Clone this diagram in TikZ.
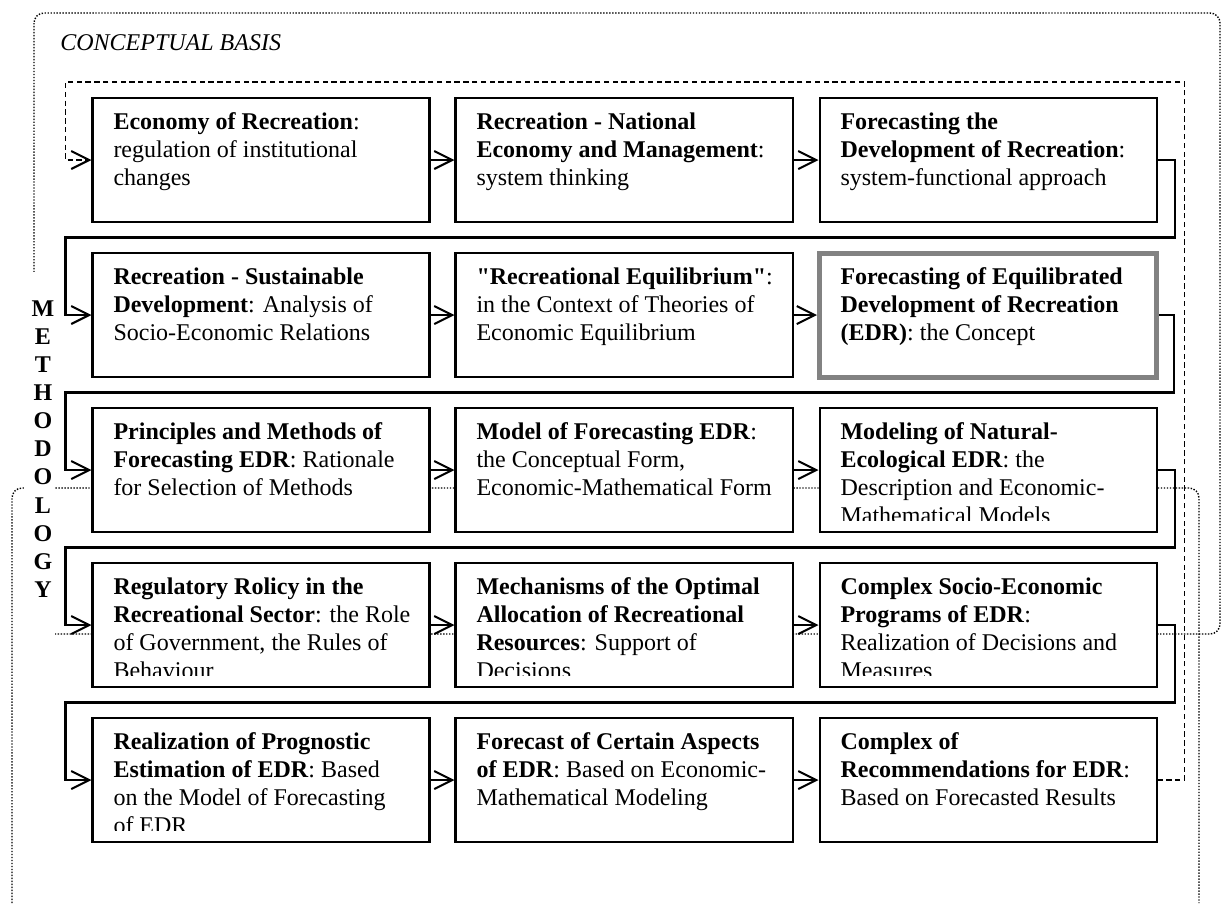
\documentclass[tikz,border=0pt]{standalone}
\usepackage{fontspec}
\setmainfont{Liberation Serif}
\usetikzlibrary{arrows.meta}
\definecolor{edrgray}{RGB}{130,130,130}
\newcommand{\edrsize}{\fontsize{13.66pt}{16pt}\selectfont}
\newcommand{\stagelines}[1]{\parbox[t][2.008cm][t]{5.9cm}{\begin{tabular}[t]{@{}l@{}}#1\end{tabular}}}
\newcommand{\straightquote}{\XeTeXglyph\XeTeXglyphindex "quotedbl"\relax}
\tikzset{
	stage/.style={draw, line width=1.15pt, fill=white, inner xsep=0.42cm, inner ysep=0.236cm},
	keystage/.style={stage, draw=edrgray, line width=2.85pt},
	flow/.style={line width=1.15pt, -{Straight Barb[length=0.36cm,width=0.36cm]}},
	feedback/.style={line width=0.6pt, dash pattern=on 3pt off 2pt,
		-{Straight Barb[length=0.36cm,width=0.36cm,line width=1.15pt]}},
	frame/.style={line width=0.8pt, dash pattern=on 0.8pt off 0.9pt, rounded corners=0.2cm}
}

\begin{document}
\begin{tikzpicture}[font=\edrsize]
		\useasboundingbox (0,0) rectangle (24.46,-18.06);

		\draw[frame] (0.68,-0.26) rectangle (24.4,-12.68);
		\draw[frame] (0.24,-18.06) -- (0.24,-9.76) -- (23.98,-9.76) -- (23.98,-18.06);
		\fill[white] (0.48,-5.44) rectangle (1.1,-12.9);

		\draw (1.2,-1.0) node [anchor=base west, inner sep=0pt, font=\edrsize\itshape] (concept) {CONCEPTUAL BASIS};
		\draw (0.86,-8.98) node [align=center, inner sep=0pt, font=\edrsize\bfseries] (meth) {M\\E\\T\\H\\O\\D\\O\\L\\O\\G\\Y};

		\draw (5.22,-3.2) node [stage] (b11) {\stagelines{\textbf{Economy of Recreation}:\\regulation of institutional\\changes}};
		\draw (12.48,-3.2) node [stage] (b12) {\stagelines{\textbf{Recreation - National}\\\textbf{Economy and Management}:\\system thinking}};
		\draw (19.76,-3.2) node [stage] (b13) {\stagelines{\textbf{Forecasting the}\\\textbf{Development of Recreation}:\\system-functional approach}};

		\draw (5.22,-6.3) node [stage] (b21) {\stagelines{\textbf{Recreation - Sustainable}\\\textbf{Development}: Analysis of\\Socio-Economic Relations}};
		\draw (12.48,-6.3) node [stage] (b22) {\stagelines{\textbf{\straightquote Recreational Equilibrium\straightquote}:\\in the Context of Theories of\\Economic Equilibrium}};
		\draw (19.76,-6.3) node [keystage] (b23) {\stagelines{\textbf{Forecasting of Equilibrated}\\\textbf{Development of Recreation}\\\textbf{(EDR)}: the Concept}};

		\draw (5.22,-9.4) node [stage] (b31) {\stagelines{\textbf{Principles and Methods of}\\\textbf{Forecasting EDR}: Rationale\\for Selection of Methods}};
		\draw (12.48,-9.4) node [stage] (b32) {\stagelines{\textbf{Model of Forecasting EDR}:\\the Conceptual Form,\\Economic-Mathematical Form}};
		\draw (19.76,-9.4) node [stage] (b33) {\stagelines{\textbf{Modeling of Natural-}\\\textbf{Ecological EDR}: the\\Description and Economic-\\Mathematical Models}};

		\draw (5.22,-12.5) node [stage] (b41) {\stagelines{\textbf{Regulatory Rolicy in the}\\\textbf{Recreational Sector}: the Role\\of Government, the Rules of\\Behaviour}};
		\draw (12.48,-12.5) node [stage] (b42) {\stagelines{\textbf{Mechanisms of the Optimal}\\\textbf{Allocation of Recreational}\\\textbf{Resources}: Support of\\Decisions}};
		\draw (19.76,-12.5) node [stage] (b43) {\stagelines{\textbf{Complex Socio-Economic}\\\textbf{Programs of EDR}:\\Realization of Decisions and\\Measures}};

		\draw (5.22,-15.6) node [stage] (b51) {\stagelines{\textbf{Realization of Prognostic}\\\textbf{Estimation of EDR}: Based\\on the Model of Forecasting\\of EDR}};
		\draw (12.48,-15.6) node [stage] (b52) {\stagelines{\textbf{Forecast of Certain Aspects}\\\textbf{of EDR}: Based on Economic-\\Mathematical Modeling}};
		\draw (19.76,-15.6) node [stage] (b53) {\stagelines{\textbf{Complex of}\\\textbf{Recommendations for EDR}:\\Based on Forecasted Results}};

		\foreach \b in {b33,b41,b42,b43,b51}
			\fill[white] ([shift={(0.1,0.05)}]\b.south west) rectangle ([shift={(-0.1,0.24)}]\b.south east);

		\draw
			(b11) edge [flow] (b12)
			(b12) edge [flow] (b13)
			(b21) edge [flow] (b22)
			(b22) edge [flow] (b23)
			(b31) edge [flow] (b32)
			(b32) edge [flow] (b33)
			(b41) edge [flow] (b42)
			(b42) edge [flow] (b43)
			(b51) edge [flow] (b52)
			(b52) edge [flow] (b53)
		;

		\draw[flow] (b13.east) -- ++(0.34,0) |- ([shift={(-0.52,0.29)}]b21.north west) |- (b21.west);
		\draw[flow] (b23.east) -- ++(0.3,0) |- ([shift={(-0.52,0.29)}]b31.north west) |- (b31.west);
		\draw[flow] (b33.east) -- ++(0.34,0) |- ([shift={(-0.52,0.29)}]b41.north west) |- (b41.west);
		\draw[flow] (b43.east) -- ++(0.34,0) |- ([shift={(-0.52,0.29)}]b51.north west) |- (b51.west);
		\draw[feedback] (b53.east) -- ++(0.54,0) |- ([shift={(-0.52,0.3)}]b11.north west) |- (b11.west);
	\end{tikzpicture}
\end{document}
